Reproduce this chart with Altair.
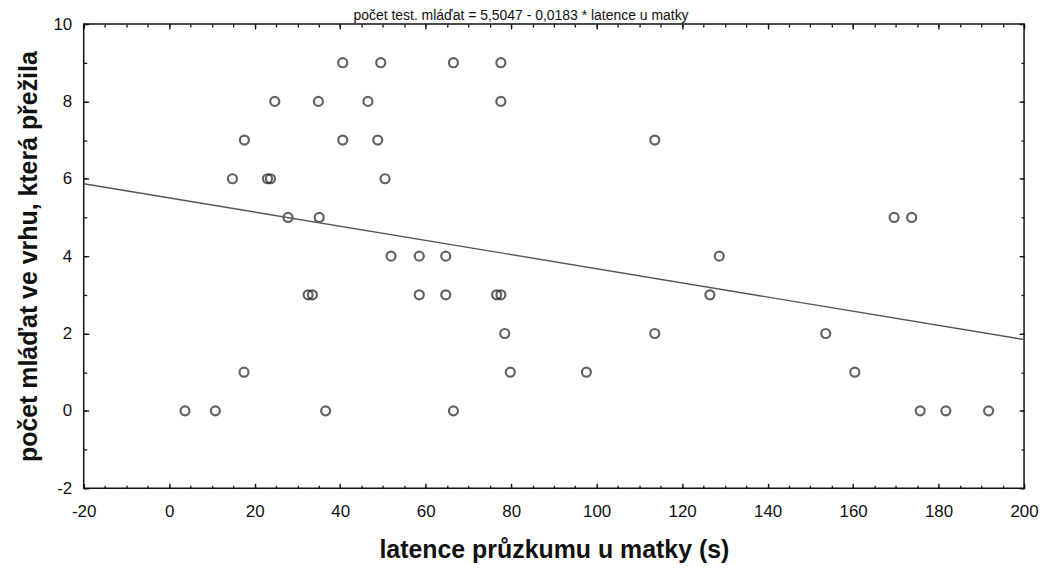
import altair as alt
import pandas as pd

# --- data ---
latence = [40.6, 49.5, 66.5, 77.6,
           24.7, 34.9, 46.5, 77.6,
           17.6, 40.6, 48.8, 113.6,
           14.8, 23.0, 23.7, 50.5,
           27.8, 35.1, 169.6, 173.7,
           51.9, 58.5, 64.7, 128.7,
           32.5, 33.5, 58.5, 64.7, 76.6, 77.6, 126.5,
           78.5, 113.6, 153.6,
           17.5, 79.8, 97.6, 160.4,
           3.7, 10.8, 36.6, 66.5, 175.7, 181.7, 191.7]
mladata = [9, 9, 9, 9,
           8, 8, 8, 8,
           7, 7, 7, 7,
           6, 6, 6, 6,
           5, 5, 5, 5,
           4, 4, 4, 4,
           3, 3, 3, 3, 3, 3, 3,
           2, 2, 2,
           1, 1, 1, 1,
           0, 0, 0, 0, 0, 0, 0]

intercept = 5.5047
slope = -0.0183
line_x = [-20, 200]

x_major = list(range(-20, 201, 20))
x_minor = list(range(-20, 201, 5))
y_major = list(range(-2, 11, 2))
y_minor = list(range(-2, 11, 1))

title_text = "počet test. mláďat = 5,5047 - 0,0183 * latence u matky"
x_title = "latence průzkumu u matky (s)"
y_title = "počet mláďat ve vrhu, která přežila"

pts = pd.DataFrame({"x": latence, "y": mladata})
reg = pd.DataFrame({"x": line_x, "y": [intercept + slope * v for v in line_x]})

FONT = "Liberation Sans"
INK = "#111111"
xs = alt.Scale(domain=[-20, 200], nice=False, zero=False)
ys = alt.Scale(domain=[-2, 10], nice=False, zero=False)


def tick_axis(orient, values, size):
    return alt.Axis(orient=orient, values=values, labels=False, title=None,
                    domain=False, grid=False, tickSize=size, offset=-size,
                    tickColor=INK, tickWidth=1.3)


points = alt.Chart(pts).mark_point(
    shape="circle", filled=False, size=82, stroke="#222222", strokeWidth=2.2
).encode(
    x=alt.X("x:Q", scale=xs, axis=alt.Axis(
        orient="bottom", values=x_major, title=x_title, ticks=False, tickSize=0,
        domain=False, grid=False, labelFlush=False, labelFont=FONT,
        labelExpr="datum.value + ''",
        labelFontSize=17, labelColor=INK, labelPadding=15, titleFont=FONT,
        titleFontSize=25, titleFontWeight="bold", titleColor=INK,
        titlePadding=19)),
    y=alt.Y("y:Q", scale=ys, axis=alt.Axis(
        orient="left", values=y_major, title=y_title, ticks=False, tickSize=0,
        domain=False, grid=False, labelFlush=False, labelFont=FONT,
        labelExpr="datum.value + ''",
        labelFontSize=17, labelColor=INK, labelPadding=12, titleFont=FONT,
        titleFontSize=25, titleFontWeight="bold", titleColor=INK,
        titlePadding=11)),
)

line = alt.Chart(reg).mark_line(color="#555555", strokeWidth=1.4).encode(
    x=alt.X("x:Q", scale=xs, axis=tick_axis("bottom", x_major, 5)),
    y=alt.Y("y:Q", scale=ys, axis=tick_axis("left", y_major, 5)),
)

minor1 = alt.Chart(pts).mark_point(opacity=0).encode(
    x=alt.X("x:Q", scale=xs, axis=tick_axis("bottom", x_minor, 3)),
    y=alt.Y("y:Q", scale=ys, axis=tick_axis("left", y_minor, 3)),
)
major2 = alt.Chart(pts).mark_point(opacity=0).encode(
    x=alt.X("x:Q", scale=xs, axis=tick_axis("top", x_major, 5)),
    y=alt.Y("y:Q", scale=ys, axis=tick_axis("right", y_major, 5)),
)
minor2 = alt.Chart(pts).mark_point(opacity=0).encode(
    x=alt.X("x:Q", scale=xs, axis=tick_axis("top", x_minor, 3)),
    y=alt.Y("y:Q", scale=ys, axis=tick_axis("right", y_minor, 3)),
)

title = alt.Chart(pd.DataFrame({"t": [title_text]})).mark_text(
    font=FONT, fontSize=14, color=INK, align="center", baseline="alphabetic"
).encode(text="t:N", x=alt.value(439), y=alt.value(-4))

chart = alt.layer(points, line, minor1, major2, minor2, title).resolve_axis(
    x="independent", y="independent"
).resolve_scale(x="shared", y="shared").properties(
    width=944, height=466,
    autosize=alt.AutoSizeParams(type="none"),
    padding={"left": 76, "top": 15, "right": 15, "bottom": 82},
).configure_view(stroke=INK, strokeWidth=1.5)

chart.save("out.html", embed_options={"renderer": "svg", "actions": False})
